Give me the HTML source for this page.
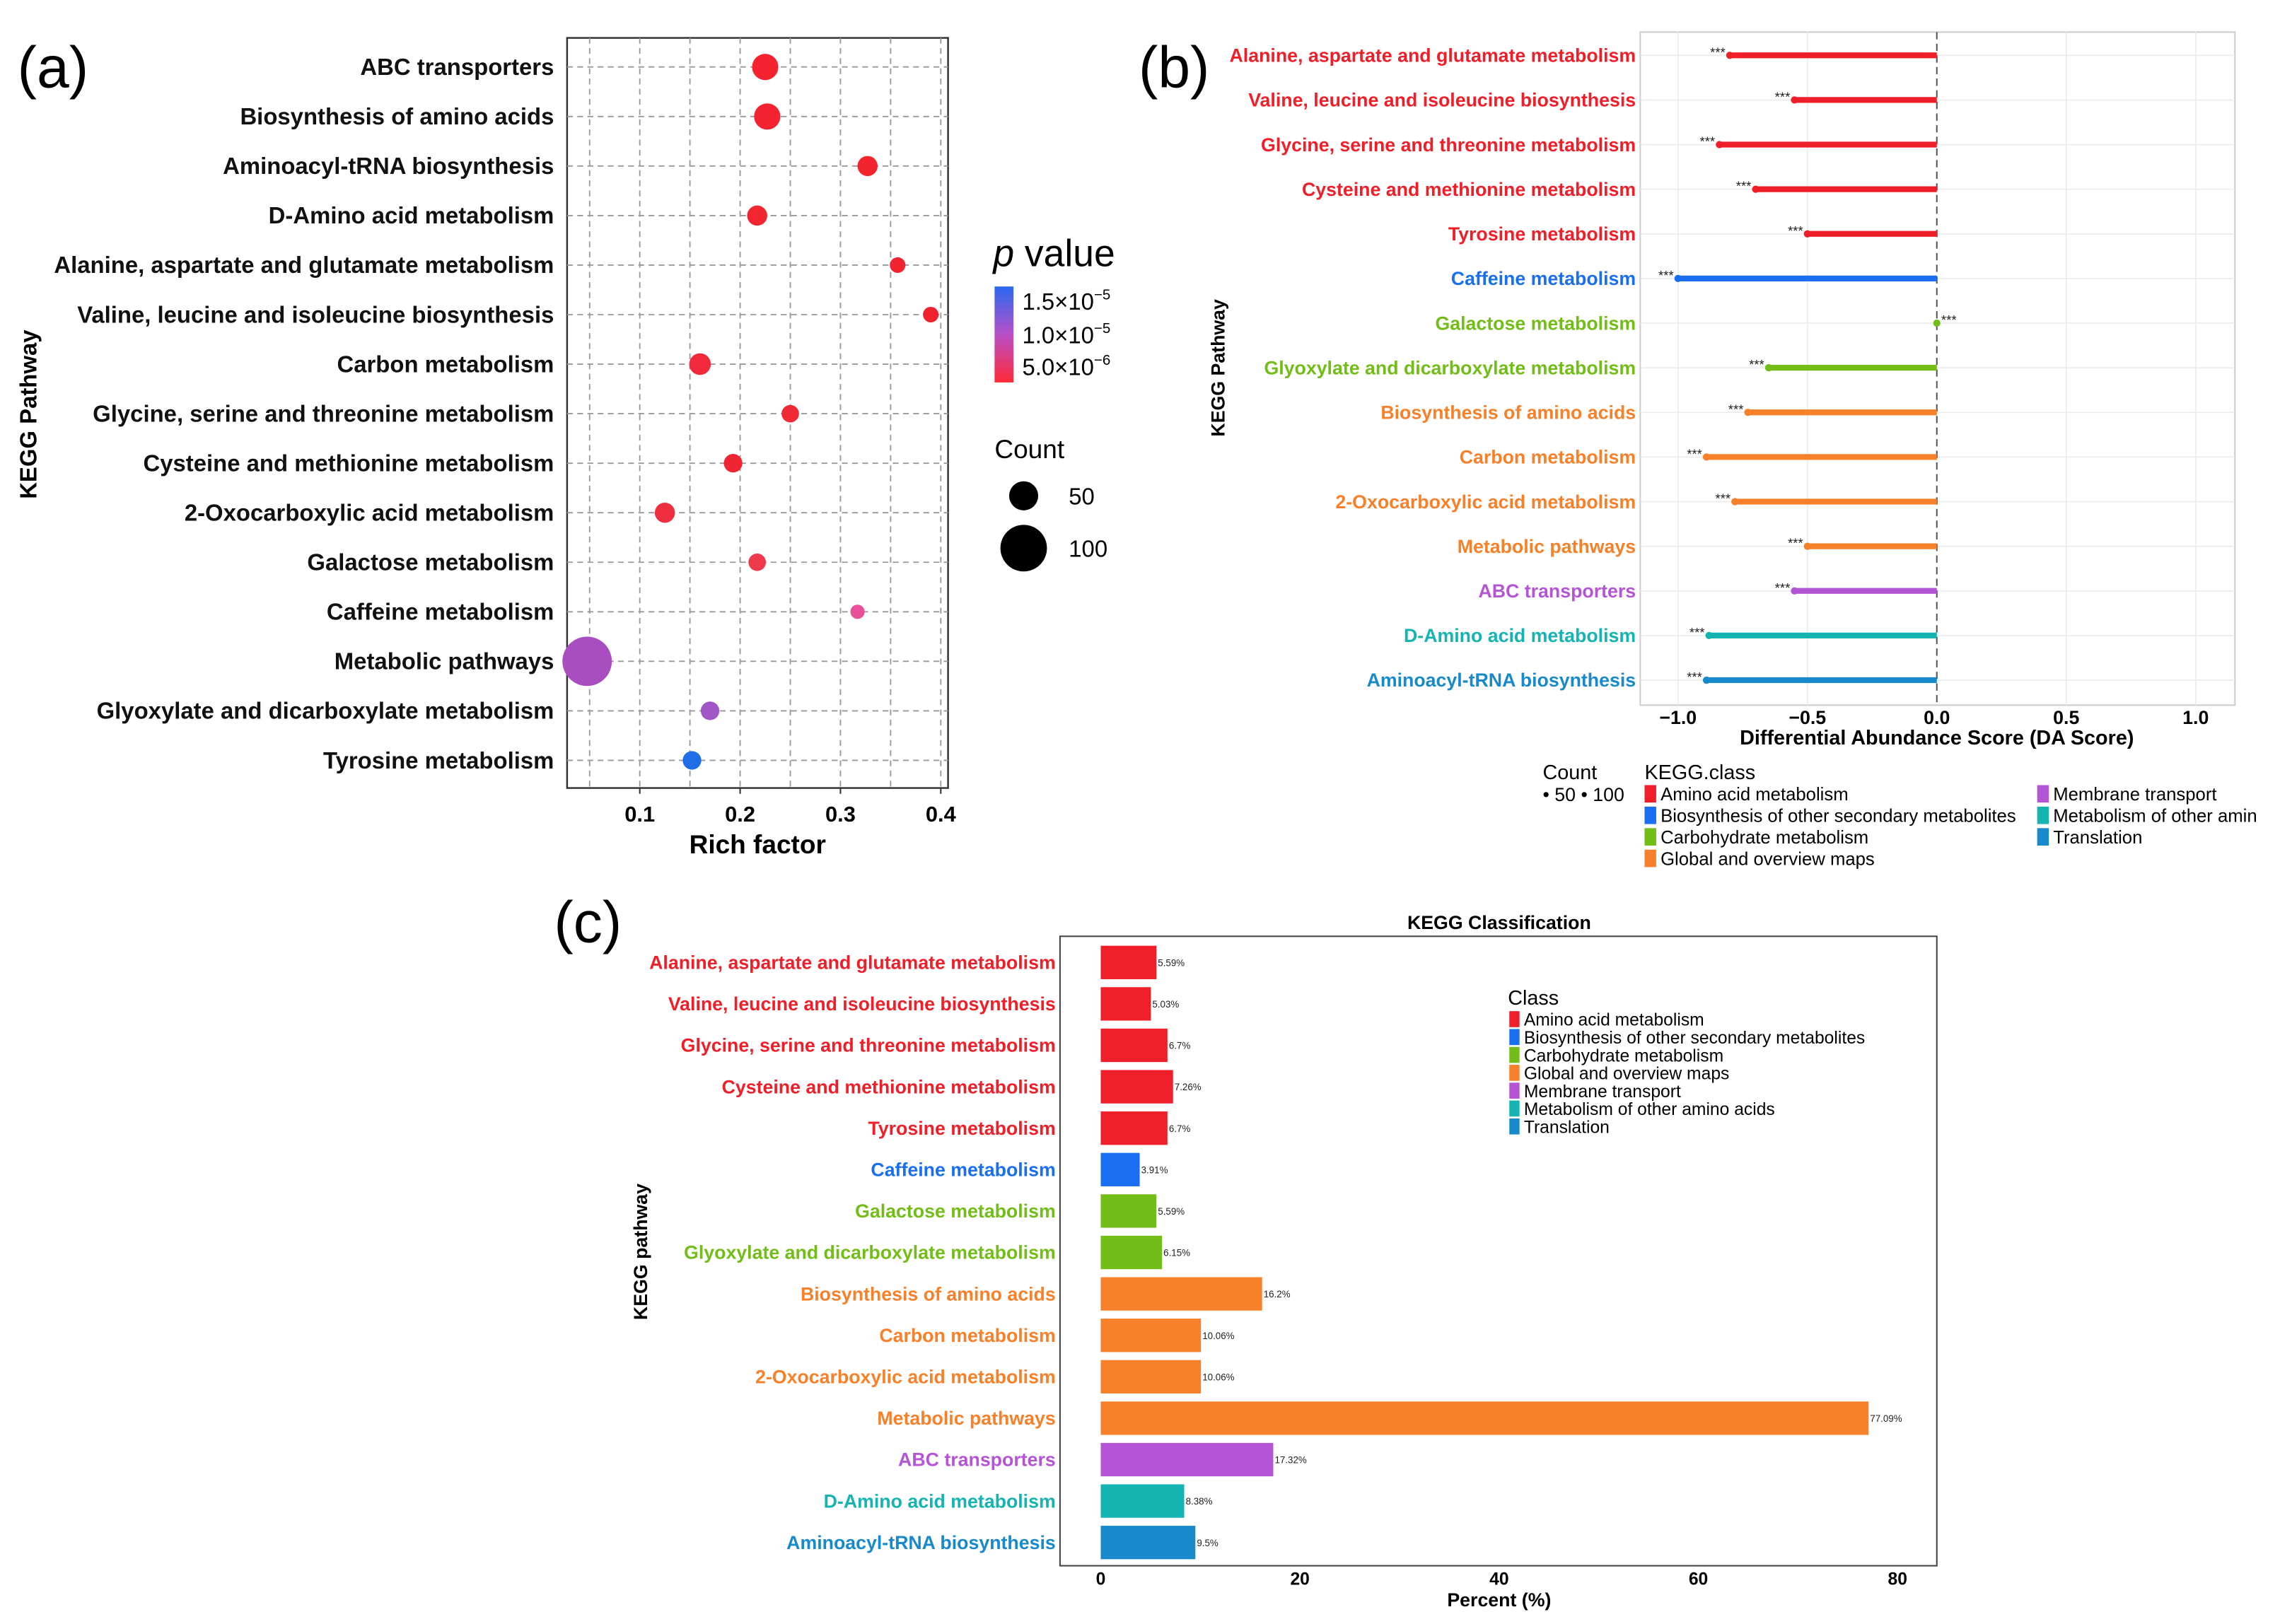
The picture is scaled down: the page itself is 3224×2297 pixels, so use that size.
<!DOCTYPE html>
<html><head><meta charset="utf-8"><style>
html,body{margin:0;padding:0;background:#fff;width:3224px;height:2297px;overflow:hidden}
svg text{font-family:"Liberation Sans",Arial,sans-serif}
</style></head><body>
<svg id="fig" xmlns="http://www.w3.org/2000/svg" width="3224" height="2297" viewBox="0 0 1568 1117">
<defs><linearGradient id="pg" x1="0" y1="0" x2="0" y2="1"><stop offset="0" stop-color="#2a6af0"/><stop offset="0.5" stop-color="#b84fc8"/><stop offset="1" stop-color="#ff2a36"/></linearGradient></defs>
<rect width="1568" height="1117" fill="#fff"/>
<text x="12" y="60" font-size="40">(a)</text>
<text x="783" y="60" font-size="40">(b)</text>
<text x="381" y="648" font-size="40">(c)</text>
<g id="ga"></g><g id="gb"></g><g id="gc"></g>
</svg>
<script>
const NS="http://www.w3.org/2000/svg";
// Panel A data
const aPathways=["ABC transporters","Biosynthesis of amino acids","Aminoacyl-tRNA biosynthesis","D-Amino acid metabolism","Alanine, aspartate and glutamate metabolism","Valine, leucine and isoleucine biosynthesis","Carbon metabolism","Glycine, serine and threonine metabolism","Cysteine and methionine metabolism","2-Oxocarboxylic acid metabolism","Galactose metabolism","Caffeine metabolism","Metabolic pathways","Glyoxylate and dicarboxylate metabolism","Tyrosine metabolism"];
const aRich=[0.225,0.227,0.327,0.217,0.357,0.39,0.16,0.25,0.193,0.125,0.217,0.317,0.0475,0.17,0.152];
const aCount=[34,34,20,20,12,12,23,15,17,20,15,10,120,17,17];
const aColor=["#f5222f","#f5222f","#f2252e","#f2262f","#f0242e","#ee232d","#f02a3a","#ef2a35","#ef2534","#ef2e40","#ef3a4e","#e9509a","#a84ec0","#a156c8","#1f6ee8"];
const aTicks=[0.1,0.2,0.3,0.4];
// Panel B data
const bPathways=["Alanine, aspartate and glutamate metabolism","Valine, leucine and isoleucine biosynthesis","Glycine, serine and threonine metabolism","Cysteine and methionine metabolism","Tyrosine metabolism","Caffeine metabolism","Galactose metabolism","Glyoxylate and dicarboxylate metabolism","Biosynthesis of amino acids","Carbon metabolism","2-Oxocarboxylic acid metabolism","Metabolic pathways","ABC transporters","D-Amino acid metabolism","Aminoacyl-tRNA biosynthesis"];
const bScore=[-0.8,-0.55,-0.84,-0.7,-0.5,-1.0,0,-0.65,-0.73,-0.89,-0.78,-0.5,-0.55,-0.88,-0.89];
const bClass=[0,0,0,0,0,1,2,2,3,3,3,3,4,5,6];
const bTicks=[-1.0,-0.5,0.0,0.5,1.0];
const classNames=["Amino acid metabolism","Biosynthesis of other secondary metabolites","Carbohydrate metabolism","Global and overview maps","Membrane transport","Metabolism of other amino acids","Translation"];
const classColors=["#ee1f29","#1a6ef0","#72bd18","#f7802a","#b455d6","#16b4b0","#188acb"];
// Panel C data
const cPercent=[5.59,5.03,6.7,7.26,6.7,3.91,5.59,6.15,16.2,10.06,10.06,77.09,17.32,8.38,9.5];
const cLabels=["5.59%","5.03%","6.7%","7.26%","6.7%","3.91%","5.59%","6.15%","16.2%","10.06%","10.06%","77.09%","17.32%","8.38%","9.5%"];
const cTicks=[0,20,40,60,80];

function el(tag,attrs,parent,text){const e=document.createElementNS(NS,tag);for(const k in attrs)e.setAttribute(k,attrs[k]);if(text!==undefined)e.textContent=text;parent.appendChild(e);return e;}

// ---------- Panel A ----------
const ga=document.getElementById('ga');
const ax=v=>440+(v-0.1)*690, ay=i=>46+i*34.07;
const aBox=el('rect',{x:390,y:26,width:262,height:516,fill:'none',stroke:'#333','stroke-width':1.2},ga);


for(let v=0.05;v<=0.401;v+=0.05){const g=el('line',{x1:ax(v),x2:ax(v),y1:26,y2:542,stroke:'#999','stroke-dasharray':'4,3','stroke-width':0.9},ga);

}
aPathways.forEach((p,i)=>{const y=ay(i);
const g=el('line',{x1:390,x2:652,y1:y,y2:y,stroke:'#999','stroke-dasharray':'4,3','stroke-width':0.9},ga);


const t=el('text',{x:381,y:y+5.5,'text-anchor':'end','font-size':16,'font-weight':'bold',fill:'#111'},ga,p);


const c=el('circle',{cx:ax(aRich[i]),cy:y,r:1.55*Math.sqrt(aCount[i]),fill:aColor[i]},ga);

});
aTicks.forEach(v=>{const t=el('text',{x:ax(v),y:565,'text-anchor':'middle','font-size':15,'font-weight':'bold'},ga,v.toFixed(1));


el('line',{x1:ax(v),x2:ax(v),y1:542,y2:546,stroke:'#333'},ga);});
let t;
t=el('text',{x:521,y:587,'text-anchor':'middle','font-size':18,'font-weight':'bold'},ga,'Rich factor');

t=el('text',{x:0,y:0,transform:'translate(25,285) rotate(-90)','text-anchor':'middle','font-size':16,'font-weight':'bold'},ga,'KEGG Pathway');

t=el('text',{x:683,y:183,'font-size':26,'font-family':'Liberation Serif'},ga,'');
t.innerHTML='<tspan font-style="italic">p</tspan> value';

t=el('rect',{x:684,y:197,width:13,height:66,fill:'url(#pg)'},ga);

[["1.5×10","−5",213],["1.0×10","−5",236],["5.0×10","−6",258]].forEach(a=>{const tt=el('text',{x:703,y:a[2],'font-size':16,'font-family':'Liberation Serif'},ga,'');
tt.innerHTML=a[0]+'<tspan dy="-7" font-size="10">'+a[1]+'</tspan>';
});
t=el('text',{x:684,y:315,'font-size':18},ga,'Count');

[[341,10,'50'],[377,16,'100']].forEach(a=>{const c=el('circle',{cx:704,cy:a[0],r:a[1],fill:'#000'},ga);

const tt=el('text',{x:735,y:a[0]+6,'font-size':16},ga,a[2]);
});

// ---------- Panel B ----------
const gb=document.getElementById('gb');
const bx=v=>1332+v*178, by=i=>38+i*30.7;
t=el('rect',{x:1128,y:22,width:409,height:463,fill:'#fff',stroke:'#ccc','stroke-width':1},gb);

[-1,-0.5,0.5,1].forEach(v=>{const g=el('line',{x1:bx(v),x2:bx(v),y1:22,y2:485,stroke:'#ebebeb','stroke-width':0.8},gb);
});
bPathways.forEach((p,i)=>{const y=by(i);el('line',{x1:1128,x2:1537,y1:y,y2:y,stroke:'#ebebeb','stroke-width':0.8},gb);});
t=el('line',{x1:bx(0),x2:bx(0),y1:22,y2:485,stroke:'#555','stroke-dasharray':'5,3','stroke-width':1},gb);

bPathways.forEach((p,i)=>{const y=by(i),col=classColors[bClass[i]];
const l=el('text',{x:1125,y:y+4.5,'text-anchor':'end','font-size':13,'font-weight':'bold',fill:col},gb,p);

const ln=el('line',{x1:bx(0),x2:bx(bScore[i]),y1:y,y2:y,stroke:col,'stroke-width':4},gb);

const d=el('circle',{cx:bx(bScore[i]),cy:y,r:2.5,fill:col},gb);

const s=el('text',{x:bScore[i]<0?bx(bScore[i])-3:bx(0)+3,y:y+1,'text-anchor':bScore[i]<0?'end':'start','font-size':9,fill:'#222'},gb,'***');
});
bTicks.forEach(v=>{const tt=el('text',{x:bx(v),y:498,'text-anchor':'middle','font-size':13,'font-weight':'bold'},gb,v<0?'−'+Math.abs(v).toFixed(1):v.toFixed(1));
});
t=el('text',{x:1332,y:512,'text-anchor':'middle','font-size':14,'font-weight':'bold'},gb,'Differential Abundance Score (DA Score)');

t=el('text',{x:0,y:0,transform:'translate(842,253) rotate(-90)','text-anchor':'middle','font-size':13,'font-weight':'bold'},gb,'KEGG Pathway');

t=el('text',{x:1061,y:536,'font-size':14},gb,'Count');

t=el('text',{x:1061,y:551,'font-size':13},gb,'• 50 • 100');

t=el('text',{x:1131,y:536,'font-size':14},gb,'KEGG.class');

classNames.forEach((n,i)=>{const col=i<4?0:1,row=i<4?i:i-4;const x=col?1401:1131,y=546+row*14.8;
const r=el('rect',{x:x,y:y-6,width:8,height:12,fill:classColors[i]},gb);

const tt=el('text',{x:x+11,y:y+4.5,'font-size':12.5},gb,i==5?'Metabolism of other amin':n);
});

// ---------- Panel C ----------
const gc=document.getElementById('gc');
const cx=v=>757+v*6.85, cy=i=>662+i*28.5;
t=el('rect',{x:729,y:644,width:603,height:433,fill:'none',stroke:'#444','stroke-width':1},gc);

t=el('text',{x:1031,y:639,'text-anchor':'middle','font-size':13,'font-weight':'bold'},gc,'KEGG Classification');

bPathways.forEach((p,i)=>{const y=cy(i),col=classColors[bClass[i]];
const l=el('text',{x:726,y:y+4.5,'text-anchor':'end','font-size':13,'font-weight':'bold',fill:col},gc,p);

const b=el('rect',{x:cx(0),y:y-11.5,width:cx(cPercent[i])-cx(0),height:23,fill:col},gc);

const v=el('text',{x:cx(cPercent[i])+1,y:y+2.5,'font-size':6.5,fill:'#222'},gc,cLabels[i]);
});
cTicks.forEach(v=>{const tt=el('text',{x:cx(v),y:1090,'text-anchor':'middle','font-size':12,'font-weight':'bold'},gc,String(v));
});
t=el('text',{x:1031,y:1105,'text-anchor':'middle','font-size':13,'font-weight':'bold'},gc,'Percent (%)');

t=el('text',{x:0,y:0,transform:'translate(445,861) rotate(-90)','text-anchor':'middle','font-size':13,'font-weight':'bold'},gc,'KEGG pathway');

t=el('text',{x:1037,y:691,'font-size':14},gc,'Class');

classNames.forEach((n,i)=>{const y=701+i*12.3;
const r=el('rect',{x:1038,y:y-5.5,width:7,height:11,fill:classColors[i]},gc);

const tt=el('text',{x:1048,y:y+4.5,'font-size':12},gc,n);
});
</script>
</body></html>
